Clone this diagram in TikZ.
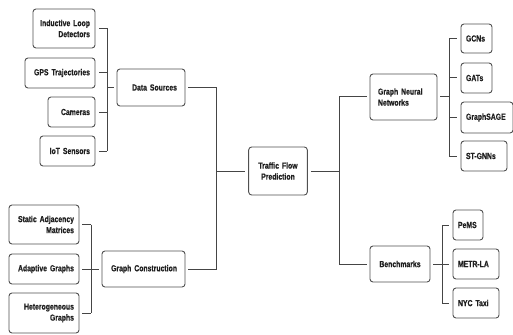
\documentclass[tikz,border=0pt]{standalone}
\usepackage{fontspec}
\usepackage{tikz}
\newfontfamily\boxfont{Liberation Sans Bold}[FakeStretch=0.78, FakeBold=0.5]
\definecolor{edgegray}{HTML}{505050}
\definecolor{linegray}{HTML}{454545}
\tikzset{
	box/.style={
		draw=edgegray,
		line width=0.9pt,
		rounded corners=3pt,
		fill=white,
		text=black!88,
		inner ysep=2pt,
		font=\boxfont\fontsize{8.8pt}{11pt}\selectfont
	},
	rbox/.style={box, align=right, inner xsep=5pt},
	mbox/.style={box, align=right, inner xsep=8pt},
	lbox/.style={box, align=left, inner xsep=5pt},
	conn/.style={draw=linegray, line width=1pt}
}

\begin{document}
\begin{tikzpicture}[x=1pt, y=-1pt]
\useasboundingbox (0,0) rectangle (513,334);

% root
\node[box, align=center, text width=52pt, minimum height=48pt] (root) at (278,171) {Traffic Flow\\Prediction};

% left branch
\node[mbox, text width=52pt, minimum height=37pt] (ds) at (151,87.5) {Data Sources};
\node[mbox, text width=67pt, minimum height=36pt] (gc) at (143.5,269) {Graph Construction};

\node[rbox, text width=52pt, minimum height=39pt] (ild) at (64,28.5) {Inductive Loop\\Detectors};
\node[rbox, text width=60pt, minimum height=30pt] (gps) at (60,73) {GPS Trajectories};
\node[rbox, text width=37pt, minimum height=30pt] (cam) at (71.5,112) {Cameras};
\node[rbox, text width=45pt, minimum height=30pt] (iot) at (67.5,151) {IoT Sensors};

\node[rbox, text width=60pt, minimum height=39pt] (sam) at (44,224.5) {Static Adjacency\\Matrices};
\node[rbox, text width=60pt, minimum height=30pt] (ada) at (44,269) {Adaptive Graphs};
\node[rbox, text width=60pt, minimum height=40pt] (het) at (44,313) {Heterogeneous\\Graphs};

% right branch
\node[box, align=left, inner xsep=8pt, text width=51pt, minimum height=46pt] (gnn) at (403.5,97) {Graph Neural\\Networks};
\node[box, align=center, inner xsep=8pt, text width=44pt, minimum height=36pt] (bm) at (400,264) {Benchmarks};

\node[lbox, text width=21pt, minimum height=29pt] (gcn) at (476.5,38.5) {GCNs};
\node[lbox, text width=21pt, minimum height=30pt] (gat) at (476.5,78) {GATs};
\node[lbox, text width=42pt, minimum height=31pt] (sage) at (487,117.5) {GraphSAGE};
\node[lbox, text width=36pt, minimum height=30pt] (stg) at (484,156) {ST-GNNs};

\node[lbox, text width=20pt, minimum height=30pt] (pems) at (468,225) {PeMS};
\node[lbox, text width=36pt, minimum height=30pt] (metr) at (476,264) {METR-LA};
\node[lbox, text width=36pt, minimum height=30pt] (nyc) at (476,303) {NYC Taxi};

% bracket spines
\coordinate (dsbar) at (107,87.5);
\coordinate (gcbar) at (91,269);
\coordinate (lj) at (216,171);
\coordinate (rj) at (339,171);
\coordinate (gnnbar) at (449,97);
\coordinate (bmbar) at (442,264);

% data sources
\draw[conn] (ild.east -| dsbar) -- (iot.east -| dsbar);
\foreach \n in {ild,gps,cam,iot}
	\draw[conn] ([xshift=4pt]\n.east) -- (\n.east -| dsbar);
\draw[conn] (dsbar) -- ([xshift=-3pt]ds.west);

% graph construction
\draw[conn] (sam.east -| gcbar) -- (het.east -| gcbar);
\foreach \n in {sam,ada,het}
	\draw[conn] ([xshift=3pt]\n.east) -- (\n.east -| gcbar);
\draw[conn] (gcbar) -- ([xshift=-3pt]gc.west);

% root links
\draw[conn] ([xshift=3pt]ds.east) -- (ds.east -| lj) -- (gc.east -| lj) -- ([xshift=3pt]gc.east);
\draw[conn] (lj) -- ([xshift=-3pt]root.west);
\draw[conn] ([xshift=3pt]root.east) -- (rj);
\draw[conn] ([xshift=-3pt]gnn.west) -- (gnn.west -| rj) -- (bm.west -| rj) -- ([xshift=-3pt]bm.west);

% graph neural networks
\draw[conn] ([xshift=3pt]gnn.east) -- (gnnbar);
\draw[conn] (gcn.west -| gnnbar) -- (stg.west -| gnnbar);
\foreach \n in {gcn,gat,sage,stg}
	\draw[conn] ([xshift=-4pt]\n.west) -- (\n.west -| gnnbar);

% benchmarks
\draw[conn] ([xshift=3pt]bm.east) -- (bmbar);
\draw[conn] (pems.west -| bmbar) -- (nyc.west -| bmbar);
\foreach \n in {pems,metr,nyc}
	\draw[conn] ([xshift=-4pt]\n.west) -- (\n.west -| bmbar);
\end{tikzpicture}
\end{document}
